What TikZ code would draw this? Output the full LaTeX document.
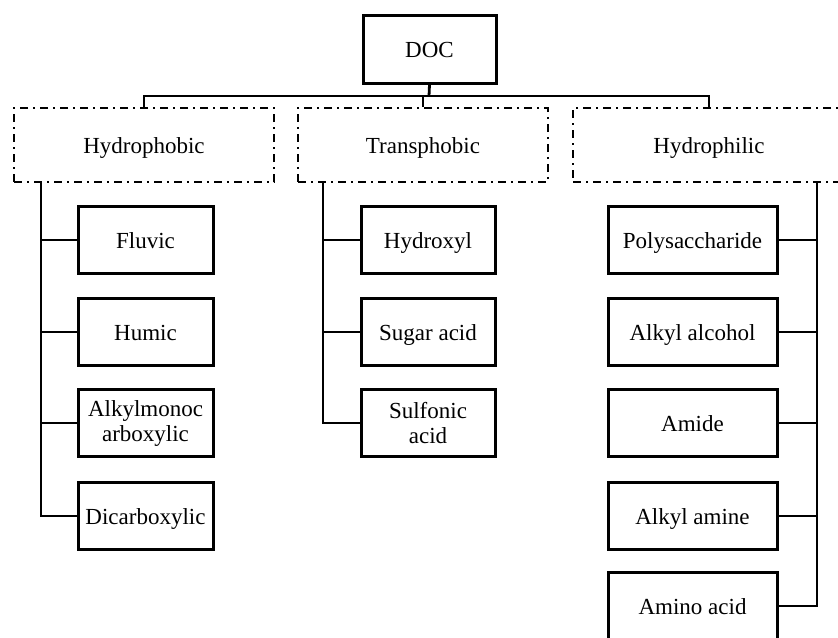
\documentclass[tikz,border=0pt]{standalone}
\usepackage{fontspec}
\setmainfont{Liberation Serif}
\tikzset{
  leaf/.style={draw, line width=1.5pt, minimum height=33.5pt, inner sep=1pt, align=center,
    font=\fontsize{11.5}{12.5}\selectfont},
  word/.style={leaf, text height=9pt, text depth=1pt},
  group/.style={draw, line width=1.4pt, dash pattern=on 4pt off 2.5pt on 1pt off 2.5pt,
    minimum height=37pt, inner sep=1pt, text height=9pt, text depth=1pt,
    font=\fontsize{11.5}{12.5}\selectfont},
  link/.style={line width=1.4pt}
}
\begin{document}
\begin{tikzpicture}[x=0.5pt,y=0.5pt,yscale=-1]
\useasboundingbox (0,0) rectangle (838,637);

% top
\node[word, minimum width=66.5pt, minimum height=34pt] (doc) at (429.5,49) {DOC};

% groups
\node[group, minimum width=130pt] (hphob) at (144,145) {Hydrophobic};
\node[group, minimum width=125pt] (trans) at (423,145) {Transphobic};
\node[group, minimum width=136pt] (hphil) at (709,145) {Hydrophilic};

% hydrophobic fractions
\node[word, minimum width=67.5pt] (fluvic) at (145.5,240) {Fluvic};
\node[word, minimum width=67.5pt] (humic) at (145.5,332) {Humic};
\node[leaf, minimum width=67.5pt] (alkmono) at (145.5,423) {Alkylmonoc\\arboxylic};
\node[word, minimum width=67.5pt] (dicarb) at (145.5,516) {Dicarboxylic};

% transphobic fractions
\node[word, minimum width=67pt] (hydroxyl) at (428,240) {Hydroxyl};
\node[word, minimum width=67pt] (sugar) at (428,332) {Sugar acid};
\node[leaf, minimum width=67pt] (sulfo) at (428,423) {Sulfonic\\acid};

% hydrophilic fractions
\node[word, minimum width=84.5pt] (polysac) at (692.5,240) {Polysaccharide};
\node[word, minimum width=84.5pt] (alkalc) at (692.5,332) {Alkyl alcohol};
\node[word, minimum width=84.5pt] (amide) at (692.5,423) {Amide};
\node[word, minimum width=84.5pt] (alkam) at (692.5,516) {Alkyl amine};
\node[word, minimum width=84.5pt] (amino) at (692.5,606) {Amino acid};

% bus
\coordinate (bus) at (429,96);
\draw[link] (doc.south) -- (bus);
\draw[link] (hphob.north) |- (bus) -| (hphil.north);
\draw[link] (trans.north) -- (trans.north |- bus);

% stems
\coordinate (lstem) at (41,182);
\coordinate (mstem) at (323,182);
\coordinate (rstem) at (817,182);
\draw[link] (lstem) |- (dicarb.west);
\foreach \n in {fluvic,humic,alkmono}
  \draw[link] (lstem |- \n.west) -- (\n.west);
\draw[link] (mstem) |- (sulfo.west);
\foreach \n in {hydroxyl,sugar}
  \draw[link] (mstem |- \n.west) -- (\n.west);
\draw[link] (rstem) |- (amino.east);
\foreach \n in {polysac,alkalc,amide,alkam}
  \draw[link] (rstem |- \n.east) -- (\n.east);

\end{tikzpicture}
\end{document}
